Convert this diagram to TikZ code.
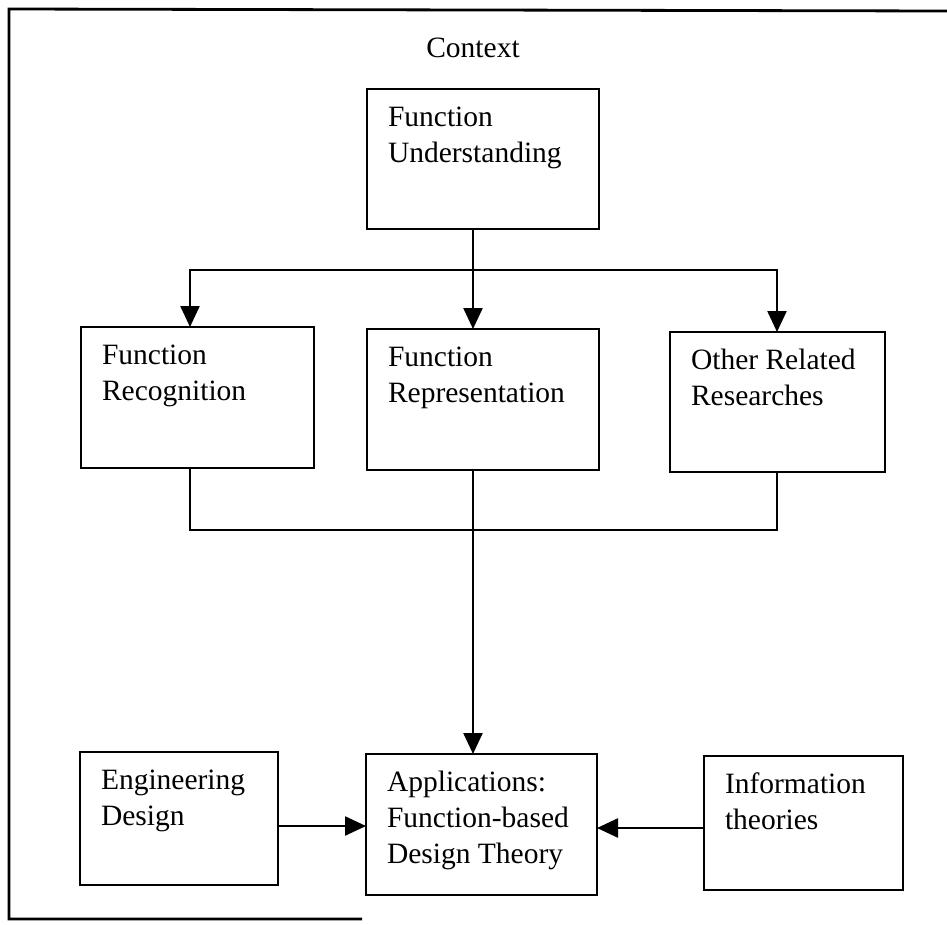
\documentclass[tikz,border=0pt]{standalone}
\usepackage{fontspec}
\setmainfont{Liberation Serif}
\usetikzlibrary{arrows.meta}

% Box body: fixed-size top-aligned page, text indented from the left edge,
% first baseline 37pt below the top edge.
\newcommand{\boxbody}[3]{%
  \begin{minipage}[t][#2][t]{#1}%
    \leftskip=21pt\rightskip=0pt plus 1fil\parindent=0pt
    \fontsize{29.5}{36}\selectfont\rule{0pt}{37pt}#3%
  \end{minipage}}

\tikzset{
  blk/.style={draw, line width=2.8pt, inner sep=0pt, outer sep=0pt, anchor=north west},
  link/.style={line width=2.4pt},
  arr/.style={link, -{Triangle[length=21pt,width=19pt]}},
  frame/.style={line width=2.8pt},
  lbl/.style={font=\fontsize{29.5}{36}\selectfont, inner sep=0pt, anchor=base}
}

\begin{document}
\begin{tikzpicture}[x=1pt,y=1pt]
  \useasboundingbox (0,0) rectangle (947,-924);

  % outer frame (open at the right)
  \draw[frame] (947,-11) -- (9,-9) -- (9,-919) -- (362,-919);
  \node[lbl] (ctx) at (473,-57) {Context};

  % boxes
  \node[blk] (FU)   at (367,-89)  {\boxbody{232pt}{140pt}{Function\\Understanding}};
  \node[blk] (FRec) at (81,-327)  {\boxbody{233pt}{141pt}{Function\\Recognition}};
  \node[blk] (FRep) at (367,-329) {\boxbody{232pt}{141pt}{Function\\Representation}};
  \node[blk] (ORR)  at (670,-332) {\boxbody{215pt}{140pt}{Other Related\\Researches}};
  \node[blk] (Eng)  at (80,-752)  {\boxbody{198pt}{133pt}{Engineering\\Design}};
  \node[blk] (App)  at (366,-754) {\boxbody{231pt}{141pt}{Applications:\\Function-based\\Design Theory}};
  \node[blk] (Info) at (704,-756) {\boxbody{199pt}{134pt}{Information\\theories}};

  % branching points
  \coordinate (bl) at (190,-270);
  \coordinate (bc) at (473,-270);
  \coordinate (br) at (777,-270);
  \coordinate (jl) at (190,-530);
  \coordinate (jc) at (473,-530);
  \coordinate (jr) at (777,-530);
  \coordinate (ea) at (0,-826);
  \coordinate (ia) at (0,-828);

  % fan-out from Function Understanding
  \draw[arr] (bc |- FU.south) -- (bc |- FRep.north);
  \draw[arr] (br) -- (bl) -- (bl |- FRec.north);
  \draw[arr] (bl) -- (br) -- (br |- ORR.north);

  % merge into Applications
  \draw[link] (jl |- FRec.south) -- (jl) -- (jr) -- (jr |- ORR.south);
  \draw[arr] (jc |- FRep.south) -- (jc |- App.north);

  % side inputs
  \draw[arr] (Eng.east |- ea) -- (App.west |- ea);
  \draw[arr] (Info.west |- ia) -- (App.east |- ia);
\end{tikzpicture}
\end{document}
